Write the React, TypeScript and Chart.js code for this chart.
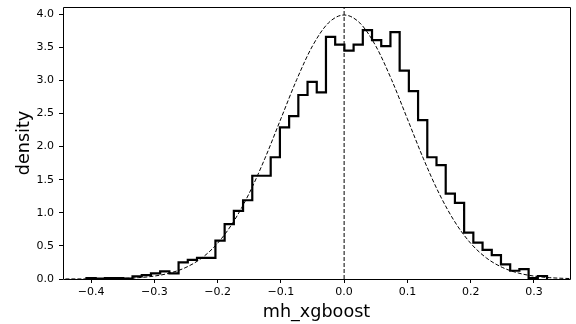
import React, { useEffect, useRef } from 'react';
import { Chart, registerables } from 'chart.js';

Chart.register(...registerables);

// Histogram: 50 equal bins, first left edge and bin width
const BIN_START = -0.4072;
const BIN_WIDTH = 0.014558;
const densityValues = [
  0.015, 0.005, 0.015, 0.015, 0.005, 0.04, 0.06, 0.085, 0.115, 0.085,
  0.25, 0.29, 0.32, 0.32, 0.58, 0.83, 1.03, 1.19, 1.56, 1.56,
  1.84, 2.29, 2.46, 2.78, 2.98, 2.82, 3.66, 3.54, 3.45, 3.54,
  3.76, 3.61, 3.52, 3.73, 3.15, 2.84, 2.40, 1.84, 1.72, 1.29,
  1.15, 0.70, 0.55, 0.44, 0.36, 0.22, 0.125, 0.15, 0.015, 0.045,
];

// Dashed reference curve
const curveX = [
  -0.45, -0.425, -0.4, -0.375, -0.35, -0.325, -0.3, -0.275, -0.25, -0.225,
  -0.2, -0.175, -0.15, -0.125, -0.1, -0.075, -0.05, -0.025, 0,
  0.025, 0.05, 0.075, 0.1, 0.125, 0.15, 0.175, 0.2, 0.225, 0.25,
  0.275, 0.3, 0.325, 0.35, 0.375,
];
const curveY = [
  0.0, 0.001, 0.001, 0.004, 0.009, 0.02, 0.044, 0.091, 0.175, 0.317,
  0.54, 0.863, 1.295, 1.826, 2.42, 3.011, 3.521, 3.867, 3.989,
  3.867, 3.521, 3.011, 2.42, 1.826, 1.295, 0.863, 0.54, 0.317, 0.175,
  0.091, 0.044, 0.02, 0.009, 0.004,
];

const MEAN_X = 0;
const X_MIN = -0.4443;
const X_MAX = 0.357;
const Y_MIN = 0;
const Y_MAX = 4.11;
const xTickValues = [-0.4, -0.3, -0.2, -0.1, 0.0, 0.1, 0.2, 0.3];
const yTickValues = [0.0, 0.5, 1.0, 1.5, 2.0, 2.5, 3.0, 3.5, 4.0];
const X_LABEL = 'mh_xgboost';
const Y_LABEL = 'density';

const FONT = 'DejaVu Sans';

const fmt = (v: number) => {
  const s = Math.abs(v) < 1e-9 ? '0.0' : v.toFixed(1);
  return s.replace('-', '\u2212');
};

const framePlugin = {
  id: 'frame',
  afterDraw(chart: any) {
    const { ctx, chartArea } = chart;
    const l = Math.floor(chartArea.left) + 0.5;
    const r = Math.floor(chartArea.right) + 0.5;
    const t = Math.floor(chartArea.top) + 0.5;
    const b = Math.floor(chartArea.bottom) + 0.5;
    ctx.save();
    ctx.strokeStyle = '#000';
    ctx.lineWidth = 1;
    ctx.beginPath();
    ctx.rect(l, t, r - l, b - t);
    ctx.stroke();
    ctx.restore();
  },
};

export default function App() {
  const ref = useRef<HTMLCanvasElement | null>(null);

  useEffect(() => {
    if (!ref.current) return;
    const edges = densityValues.map((_, k) => BIN_START + k * BIN_WIDTH);
    const lastEdge = BIN_START + densityValues.length * BIN_WIDTH;
    const stepData = [
      { x: edges[0], y: 0 },
      ...densityValues.map((v, k) => ({ x: edges[k], y: v })),
      { x: lastEdge, y: 0 },
    ];
    const curveData = curveX.map((x, i) => ({ x, y: curveY[i] }));
    const meanData = [
      { x: MEAN_X, y: Y_MIN },
      { x: MEAN_X, y: Y_MAX },
    ];

    const chart = new Chart(ref.current, {
      type: 'line',
      data: {
        datasets: [
          {
            data: stepData,
            borderColor: '#000',
            borderWidth: 2.2,
            stepped: 'before',
            pointRadius: 0,
            fill: false,
            borderJoinStyle: 'miter',
            borderCapStyle: 'butt',
            order: 1,
          },
          {
            data: curveData,
            borderColor: '#000',
            borderWidth: 1,
            borderDash: [4, 2],
            cubicInterpolationMode: 'monotone',
            pointRadius: 0,
            fill: false,
            order: 2,
          },
          {
            data: meanData,
            borderColor: '#000',
            borderWidth: 1,
            borderDash: [4, 2],
            pointRadius: 0,
            fill: false,
            order: 3,
          },
        ],
      } as any,
      options: {
        animation: false,
        responsive: false,
        parsing: false,
        normalized: true,
        layout: { padding: { top: 7, right: 6, left: 0, bottom: 0 } },
        plugins: {
          legend: { display: false },
          tooltip: { enabled: false },
        },
        scales: {
          x: {
            type: 'linear',
            min: X_MIN,
            max: X_MAX,
            afterBuildTicks: (s: any) => {
              s.ticks = xTickValues.map((v) => ({ value: v }));
            },
            afterFit: (s: any) => {
              s.height = 45;
              s.paddingLeft = 0;
              s.paddingRight = 0;
            },
            ticks: {
              callback: (v: any) => fmt(Number(v)),
              font: { family: FONT, size: 11 },
              color: '#000',
              padding: 3,
              maxRotation: 0,
              autoSkip: false,
            },
            grid: {
              display: true,
              drawOnChartArea: false,
              drawTicks: true,
              tickLength: 4,
              tickColor: '#000',
              tickWidth: 1,
            },
            border: { display: false },
            title: {
              display: true,
              text: X_LABEL,
              color: '#000',
              font: { family: FONT, size: 17.6 },
              padding: { top: 0, bottom: 1 },
            },
          },
          y: {
            type: 'linear',
            min: Y_MIN,
            max: Y_MAX,
            afterBuildTicks: (s: any) => {
              s.ticks = yTickValues.map((v) => ({ value: v }));
            },
            afterFit: (s: any) => {
              s.width = 63;
              s.paddingTop = 0;
              s.paddingBottom = 0;
            },
            ticks: {
              callback: (v: any) => fmt(Number(v)),
              font: { family: FONT, size: 11 },
              color: '#000',
              padding: 5,
              autoSkip: false,
            },
            grid: {
              display: true,
              drawOnChartArea: false,
              drawTicks: true,
              tickLength: 4,
              tickColor: '#000',
              tickWidth: 1,
            },
            border: { display: false },
            title: {
              display: true,
              text: Y_LABEL,
              color: '#000',
              font: { family: FONT, size: 17.6 },
              padding: { top: 14, bottom: 0 },
            },
          },
        },
      } as any,
      plugins: [framePlugin],
    });
    return () => chart.destroy();
  }, []);

  return (
    <div style={{ position: 'fixed', left: 0, top: 0, width: 576, height: 324, background: '#fff' }}>
      <canvas ref={ref} width={576} height={324} />
    </div>
  );
}
